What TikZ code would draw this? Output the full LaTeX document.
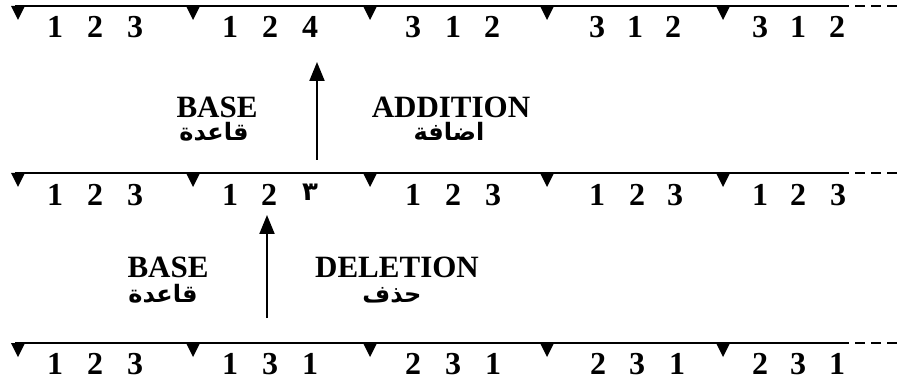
\documentclass[tikz,border=0pt]{standalone}
\usepackage{fontspec}
\setmainfont{Liberation Serif}
\newfontfamily\arabicfont[Script=Arabic]{DejaVu Sans}
\TeXXeTstate=1
\usetikzlibrary{arrows.meta}
\begin{document}
\begin{tikzpicture}[x=1pt,y=-1pt,
  digit/.style={font=\fontsize{32}{32}\selectfont\bfseries, anchor=base, inner sep=0pt},
  ardigit/.style={font=\arabicfont\fontsize{26}{26}\selectfont\bfseries, anchor=base, inner sep=0pt},
  lbl/.style={font=\fontsize{31}{31}\selectfont\bfseries, anchor=base, inner sep=0pt},
  arlbl/.style={font=\arabicfont\fontsize{24}{24}\selectfont\bfseries, inner sep=0pt,
    anchor=base, text height=16pt, text depth=4pt},
  rail/.style={line width=2pt},
  railend/.style={line width=1.3pt, dash pattern=on 10pt off 6pt},
  arr/.style={line width=2pt, -{Triangle[width=15pt,length=19pt]}},
  marker/.style={fill=black}]
\useasboundingbox (0,0) rectangle (900,382);
% rails with group markers
\foreach \ly in {6,173,343}{
  \draw[rail] (15,\ly) -- (849,\ly);
  \draw[railend] (855,\ly) -- (900,\ly);
  \foreach \tx in {18,193,370,547,723}
    \fill[marker] (\tx-7,\ly) -- (\tx+7,\ly) -- (\tx,\ly+14) -- cycle;
}
% row 1 digits
\foreach \x/\d [count=\i] in {55/1,95/2,135/3,230/1,270/2,310/4,413/3,453/1,492/2,597/3,635/1,673/2,760/3,798/1,837/2}
  \node[digit] (a\i) at (\x,38) {\d};
% row 2 digits
\foreach \x/\d [count=\i] in {55/1,95/2,135/3,230/1,269/2,413/1,453/2,493/3,597/1,637/2,675/3,760/1,798/2,838/3}
  \node[digit] (b\i) at (\x,206) {\d};
\node[ardigit] (bar) at (310,201) {\beginR ٣\endR};
% row 3 digits
\foreach \x/\d [count=\i] in {55/1,95/2,135/3,230/1,270/3,310/1,413/2,453/3,493/1,598/2,637/3,677/1,760/2,798/3,837/1}
  \node[digit] (c\i) at (\x,374) {\d};
% labels upper
\node[lbl] (base1) at (217,118) {BASE};
\node[arlbl] (base1ar) at (214,141) {\beginR قاعدة\endR};
\node[lbl] (add) at (451,118) {ADDITION};
\node[arlbl] (addar) at (449,141) {\beginR اضافة\endR};
% labels lower
\node[lbl] (base2) at (168,277) {BASE};
\node[arlbl] (base2ar) at (163,302) {\beginR قاعدة\endR};
\node[lbl] (del) at (397,277) {DELETION};
\node[arlbl] (delar) at (392,302) {\beginR حذف\endR};
% arrows
\coordinate (a1s) at (317,160);
\coordinate (a1e) at (317,62);
\draw[arr] (a1s) -- (a1e);
\coordinate (a2s) at (267,318);
\coordinate (a2e) at (267,215);
\draw[arr] (a2s) -- (a2e);
\end{tikzpicture}
\end{document}
